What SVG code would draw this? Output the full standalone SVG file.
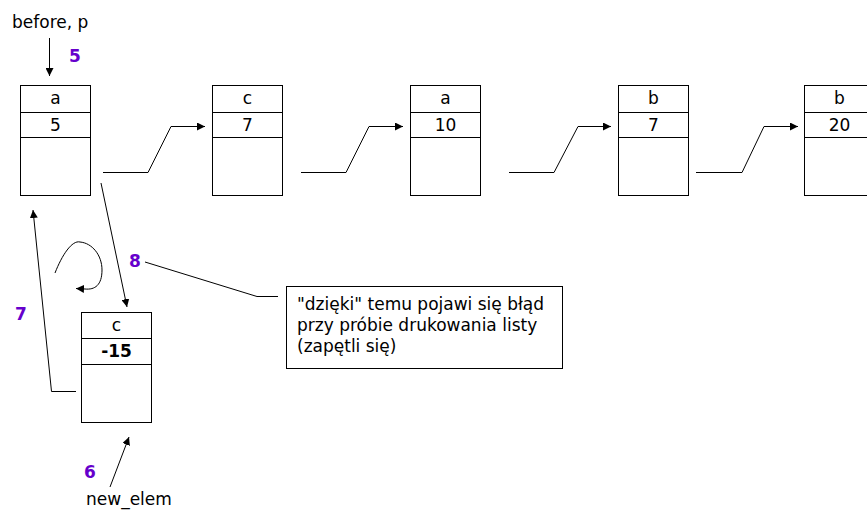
<svg xmlns="http://www.w3.org/2000/svg" width="867" height="511" viewBox="0 0 867 511">
<defs>
<marker id="ah" viewBox="0 0 10 10" refX="10" refY="5" markerWidth="8" markerHeight="8" markerUnits="userSpaceOnUse" orient="auto">
<path d="M0,0 L10,5 L0,10 z" fill="#000"/>
</marker>
<style>
.box{fill:#fff;stroke:#000;stroke-width:1}
.t{font-family:"DejaVu Sans",Verdana,sans-serif;font-size:17px;fill:#000}
.c{text-anchor:middle}
.n{font-family:"DejaVu Sans",Verdana,sans-serif;font-size:17px;font-weight:bold;fill:#6600CC}
.ln{fill:none;stroke:#000;stroke-width:1}
</style>
</defs>
<rect width="867" height="511" fill="#fff"/>
<g id="node1">
<rect class="box" x="20.5" y="85.5" width="70" height="110"/>
<line class="ln" x1="20.5" y1="112.5" x2="90.5" y2="112.5"/>
<line class="ln" x1="20.5" y1="137.5" x2="90.5" y2="137.5"/>
<text class="t c" x="55.5" y="104">a</text>
<text class="t c" x="55.5" y="131">5</text>
</g>
<g id="node2">
<rect class="box" x="212.5" y="85.5" width="70" height="110"/>
<line class="ln" x1="212.5" y1="112.5" x2="282.5" y2="112.5"/>
<line class="ln" x1="212.5" y1="137.5" x2="282.5" y2="137.5"/>
<text class="t c" x="247.5" y="104">c</text>
<text class="t c" x="247.5" y="131">7</text>
</g>
<g id="node3">
<rect class="box" x="410.5" y="85.5" width="70" height="110"/>
<line class="ln" x1="410.5" y1="112.5" x2="480.5" y2="112.5"/>
<line class="ln" x1="410.5" y1="137.5" x2="480.5" y2="137.5"/>
<text class="t c" x="445.5" y="104">a</text>
<text class="t c" x="445.5" y="131">10</text>
</g>
<g id="node4">
<rect class="box" x="618.5" y="85.5" width="70" height="110"/>
<line class="ln" x1="618.5" y1="112.5" x2="688.5" y2="112.5"/>
<line class="ln" x1="618.5" y1="137.5" x2="688.5" y2="137.5"/>
<text class="t c" x="653.5" y="104">b</text>
<text class="t c" x="653.5" y="131">7</text>
</g>
<g id="node5">
<rect class="box" x="804.5" y="85.5" width="70" height="110"/>
<line class="ln" x1="804.5" y1="112.5" x2="874.5" y2="112.5"/>
<line class="ln" x1="804.5" y1="137.5" x2="874.5" y2="137.5"/>
<text class="t c" x="839.5" y="104">b</text>
<text class="t c" x="839.5" y="131">20</text>
</g>
<g id="nodeNew">
<rect class="box" x="81.5" y="312.5" width="70" height="110"/>
<line class="ln" x1="81.5" y1="338.5" x2="151.5" y2="338.5"/>
<line class="ln" x1="81.5" y1="364.5" x2="151.5" y2="364.5"/>
<text class="t c" x="116.5" y="331">c</text>
<text class="t c" x="116.5" y="357" font-weight="bold">-15</text>
</g>
<g id="callout">
<rect class="box" x="286.5" y="286.5" width="276" height="82"/>
<text class="t" x="297" y="310">"dzięki" temu pojawi się błąd</text>
<text class="t" x="297" y="331">przy próbie drukowania listy</text>
<text class="t" x="297" y="352">(zapętli się)</text>
</g>
<g id="labels">
<text class="t" x="12" y="28">before, p</text>
<text class="t" x="86" y="505" font-size="16.5">new_elem</text>
<text class="n" x="69" y="62">5</text>
<text class="n" x="84" y="478">6</text>
<text class="n" x="15" y="320">7</text>
<text class="n" x="129" y="267">8</text>
</g>
<g id="connectors">
<line class="ln" x1="49.5" y1="38" x2="49.5" y2="76" marker-end="url(#ah)"/>
<polyline class="ln" points="103,172.5 148,172.5 171,126.5 205,126.5" marker-end="url(#ah)"/>
<polyline class="ln" points="301,172.5 346,172.5 369,126.5 403,126.5" marker-end="url(#ah)"/>
<polyline class="ln" points="509,172.5 554,172.5 578,126.5 611,126.5" marker-end="url(#ah)"/>
<polyline class="ln" points="696,172.5 742,172.5 764,126.5 798,126.5" marker-end="url(#ah)"/>
<line class="ln" x1="101" y1="183" x2="127" y2="307" marker-end="url(#ah)"/>
<polyline class="ln" points="76,391.5 51.5,391.5 33,210" marker-end="url(#ah)"/>
<path class="ln" d="M55,273 C62,255 72,240 80,242 C92,243 102,255 102,270 C102,285 95,290 85,289 L76,288.5" marker-end="url(#ah)"/>
<line class="ln" x1="110" y1="487" x2="129" y2="437" marker-end="url(#ah)"/>
<polyline class="ln" points="145,262 257,296.5 278,296.5"/>
</g>
</svg>
